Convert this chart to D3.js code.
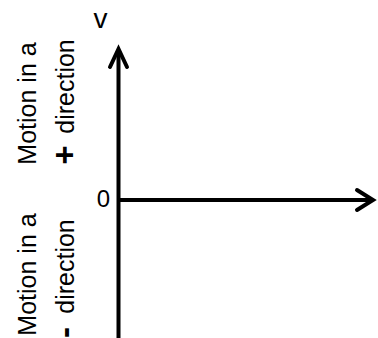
<!DOCTYPE html>
<html>
<head>
<meta charset="utf-8">
<script src="https://cdn.jsdelivr.net/npm/d3@7"></script>
<style>
  html, body { margin: 0; padding: 0; background: #fff; }
  svg { display: block; }
  text { font-family: "Liberation Sans", Arial, sans-serif; fill: #000; }
</style>
</head>
<body>
<svg id="chart" width="378" height="338"></svg>
<script>
// Velocity–time axes: domain extents of each axis
const timeDomain = [0, 1];
const velocityDomain = [-1, 1];

// Axis labels
const velocityLabel = "v";
const originLabel = "0";

// Side annotations for the two halves of the velocity axis
const regionValues = [0.5, -0.5];           // velocity at each annotation's centre
const regionLine1 = ["Motion in a", "Motion in a"];
const regionSigns = ["+", "-"];
const regionLine2 = ["direction", "direction"];

const svg = d3.select("#chart");
const W = 378, H = 338;

const x = d3.scaleLinear().domain(timeDomain).range([118.5, 373]);
const y = d3.scaleLinear().domain(velocityDomain).range([351, 49]);

const axisStyle = s => s
  .attr("fill", "none")
  .attr("stroke", "#000")
  .attr("stroke-width", 4)
  .attr("stroke-linecap", "butt")
  .attr("stroke-linejoin", "miter");

// velocity axis (vertical) with arrow at top
const vx = x(timeDomain[0]);
svg.append("line")
  .attr("x1", vx).attr("x2", vx)
  .attr("y1", y(velocityDomain[1]) + 1).attr("y2", H + 2)
  .call(axisStyle);
svg.append("path")
  .attr("d", d3.line()([[vx - 8.5, y(velocityDomain[1]) + 18], [vx, y(velocityDomain[1])], [vx + 8.5, y(velocityDomain[1]) + 18]]))
  .call(axisStyle)
  .attr("stroke-linecap", "round");

// time axis (horizontal) with arrow at right
const hy = y(0);
svg.append("line")
  .attr("x1", vx).attr("x2", x(timeDomain[1]) - 1)
  .attr("y1", hy).attr("y2", hy)
  .call(axisStyle);
svg.append("path")
  .attr("d", d3.line()([[x(timeDomain[1]) - 16, hy - 10], [x(timeDomain[1]), hy], [x(timeDomain[1]) - 16, hy + 10]]))
  .call(axisStyle)
  .attr("stroke-linecap", "round");

// axis labels
svg.append("text")
  .attr("x", vx - 18).attr("y", 28)
  .attr("text-anchor", "middle")
  .attr("font-size", 28)
  .text(velocityLabel);

svg.append("text")
  .attr("x", vx - 8.5).attr("y", hy + 7)
  .attr("text-anchor", "end")
  .attr("font-size", 24)
  .text(originLabel);

// rotated region annotations (offsets relative to each half's centre)
const centreOffsets = [{l1: -21, l2: -38, sign: 30.5}, {l1: -1, l2: -9, sign: 57}];
regionValues.forEach((v, i) => {
  const cy = y(v);
  const off = centreOffsets[i];
  svg.append("text")
    .attr("transform", `translate(36,${cy + off.l1}) rotate(-90)`)
    .attr("text-anchor", "middle")
    .attr("font-size", 25)
    .text(regionLine1[i]);
  svg.append("text")
    .attr("transform", `translate(74,${cy + off.l2}) rotate(-90)`)
    .attr("text-anchor", "middle")
    .attr("font-size", 25)
    .text(regionLine2[i]);
  svg.append("text")
    .attr("transform", `translate(65.5,${cy + off.sign}) rotate(-90)`)
    .attr("text-anchor", "middle")
    .attr("y", "0.33em")
    .attr("font-size", 33)
    .attr("font-weight", "bold")
    .text(regionSigns[i]);
});
</script>
</body>
</html>
